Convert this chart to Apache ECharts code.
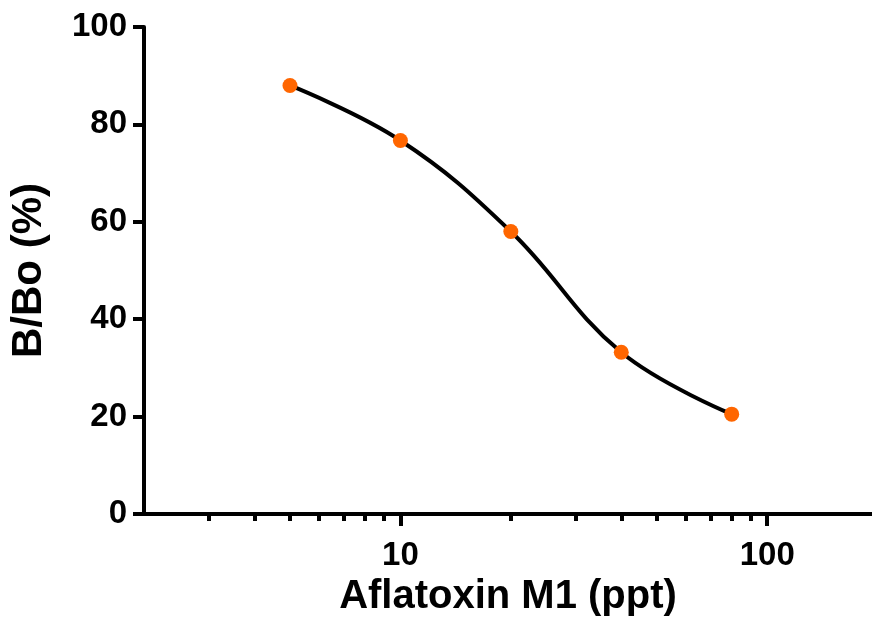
<!DOCTYPE html>
<html>
<head>
<meta charset="utf-8">
<script src="https://cdn.jsdelivr.net/npm/echarts@6/dist/echarts.min.js"></script>
<style>
  html, body { margin: 0; padding: 0; background: #fff; }
  #chart { width: 872px; height: 628px; }
</style>
</head>
<body>
<div id="chart"></div>
<script>
  // concentration (ppt) and B/Bo (%)
  var conc = [5, 10, 20, 40, 80];
  var bbo = [88, 76.7, 58, 33.2, 20.5];
  var majorTicks = [10, 100];
  var minorTicks = [3, 4, 5, 6, 7, 8, 9, 20, 30, 40, 50, 60, 70, 80, 90];

  var font = 'Liberation Sans, Arial, sans-serif';
  var points = conc.map(function (c, i) { return [c, bbo[i]]; });

  // the x axis runs off the right edge of the picture
  var xMin = 2, xMax = 193;

  var chart = echarts.init(document.getElementById('chart'));
  chart.setOption({
    animation: false,
    grid: { left: 142, right: 0, top: 27, bottom: 114, containLabel: false },
    xAxis: [{
      type: 'log',
      logBase: 10,
      min: xMin,
      max: xMax,
      name: 'Aflatoxin M1 (ppt)',
      nameLocation: 'middle',
      nameGap: 60,
      nameTextStyle: { fontFamily: font, fontWeight: 'bold', fontSize: 40, color: '#000' },
      axisLine: { lineStyle: { color: '#000', width: 4 } },
      axisTick: { customValues: majorTicks, length: 12, lineStyle: { color: '#000', width: 4 } },
      axisLabel: { customValues: majorTicks, margin: 25, fontFamily: font, fontWeight: 'bold', fontSize: 33, color: '#000' },
      splitLine: { show: false }
    }, {
      type: 'log',
      logBase: 10,
      min: xMin,
      max: xMax,
      position: 'bottom',
      axisLine: { show: false },
      axisTick: { customValues: minorTicks, length: 7, lineStyle: { color: '#000', width: 4 } },
      axisLabel: { show: false },
      splitLine: { show: false }
    }],
    yAxis: {
      type: 'value',
      min: 0,
      max: 100,
      interval: 20,
      name: 'B/Bo (%)',
      nameLocation: 'middle',
      nameGap: 94,
      nameTextStyle: { fontFamily: font, fontWeight: 'bold', fontSize: 42, color: '#000' },
      axisLine: { show: true, lineStyle: { color: '#000', width: 4 } },
      axisTick: { show: true, length: 11, lineStyle: { color: '#000', width: 4 } },
      axisLabel: { margin: 17, fontFamily: font, fontWeight: 'bold', fontSize: 33, color: '#000' },
      splitLine: { show: false }
    },
    series: [{
      type: 'line',
      data: points,
      smooth: 0.4,
      symbol: 'circle',
      symbolSize: 15,
      lineStyle: { color: '#000', width: 4 },
      itemStyle: { color: '#ff6600' }
    }]
  });
</script>
</body>
</html>
